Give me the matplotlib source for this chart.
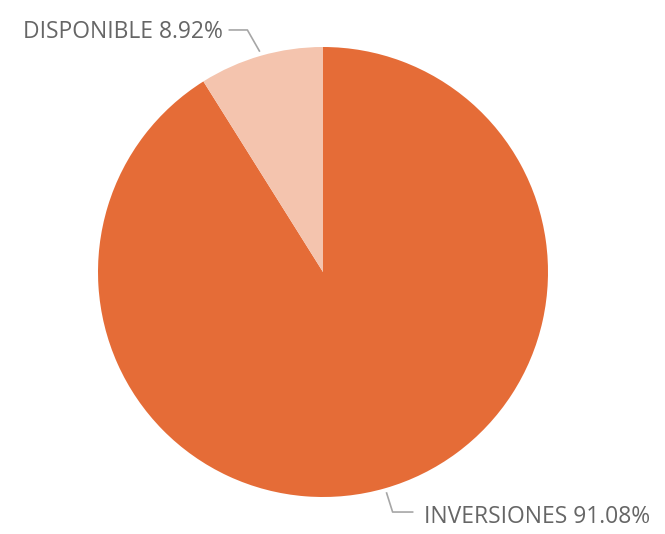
import numpy as np
import matplotlib
matplotlib.use("Agg")
import matplotlib.pyplot as plt

labels = ["INVERSIONES", "DISPONIBLE"]
values = [91.08, 8.92]
colors = ["#E56C37", "#F4C4AE"]

W, H = 665, 534
fig = plt.figure(figsize=(W / 100, H / 100), dpi=100)
ax = fig.add_axes([0, 0, 1, 1])
ax.set_xlim(0, W)
ax.set_ylim(0, H)
ax.set_aspect("equal")
ax.axis("off")

cx, cy, r = 323, H - 272, 225
wedges, _ = ax.pie(values, colors=colors, startangle=90, counterclock=False,
                   center=(cx, cy), radius=r, frame=True,
                   wedgeprops=dict(linewidth=0))
ax.set_xlim(0, W)
ax.set_ylim(0, H)
ax.axis("off")

txt_color = "#666666"
line_color = "#A6A6A6"
font = dict(family=["Open Sans", "DejaVu Sans"], fontsize=16.5, color=txt_color)

for w, lab, v in zip(wedges, labels, values):
    mid = np.deg2rad((w.theta1 + w.theta2) / 2)
    x0 = cx + (r + 5) * np.cos(mid)
    y0 = cy + (r + 5) * np.sin(mid)
    text = f"{lab} {v:.2f}%"
    if np.cos(mid) < 0:
        x1, y1 = x0 - 12, y0 + 21
        x2 = x1 - 18
        ax.plot([x0, x1, x2], [y0, y1, y1], color=line_color, lw=1.2)
        ax.text(x2 - 7, y1 - 2, text, ha="right", va="center", **font)
    else:
        x1, y1 = x0 + 6, y0 - 19
        x2 = x1 + 20
        ax.plot([x0, x1, x2], [y0, y1, y1], color=line_color, lw=1.2)
        ax.text(x2 + 11, y1 - 5, text, ha="left", va="center", **font)

fig.savefig("out.png", dpi=100)
